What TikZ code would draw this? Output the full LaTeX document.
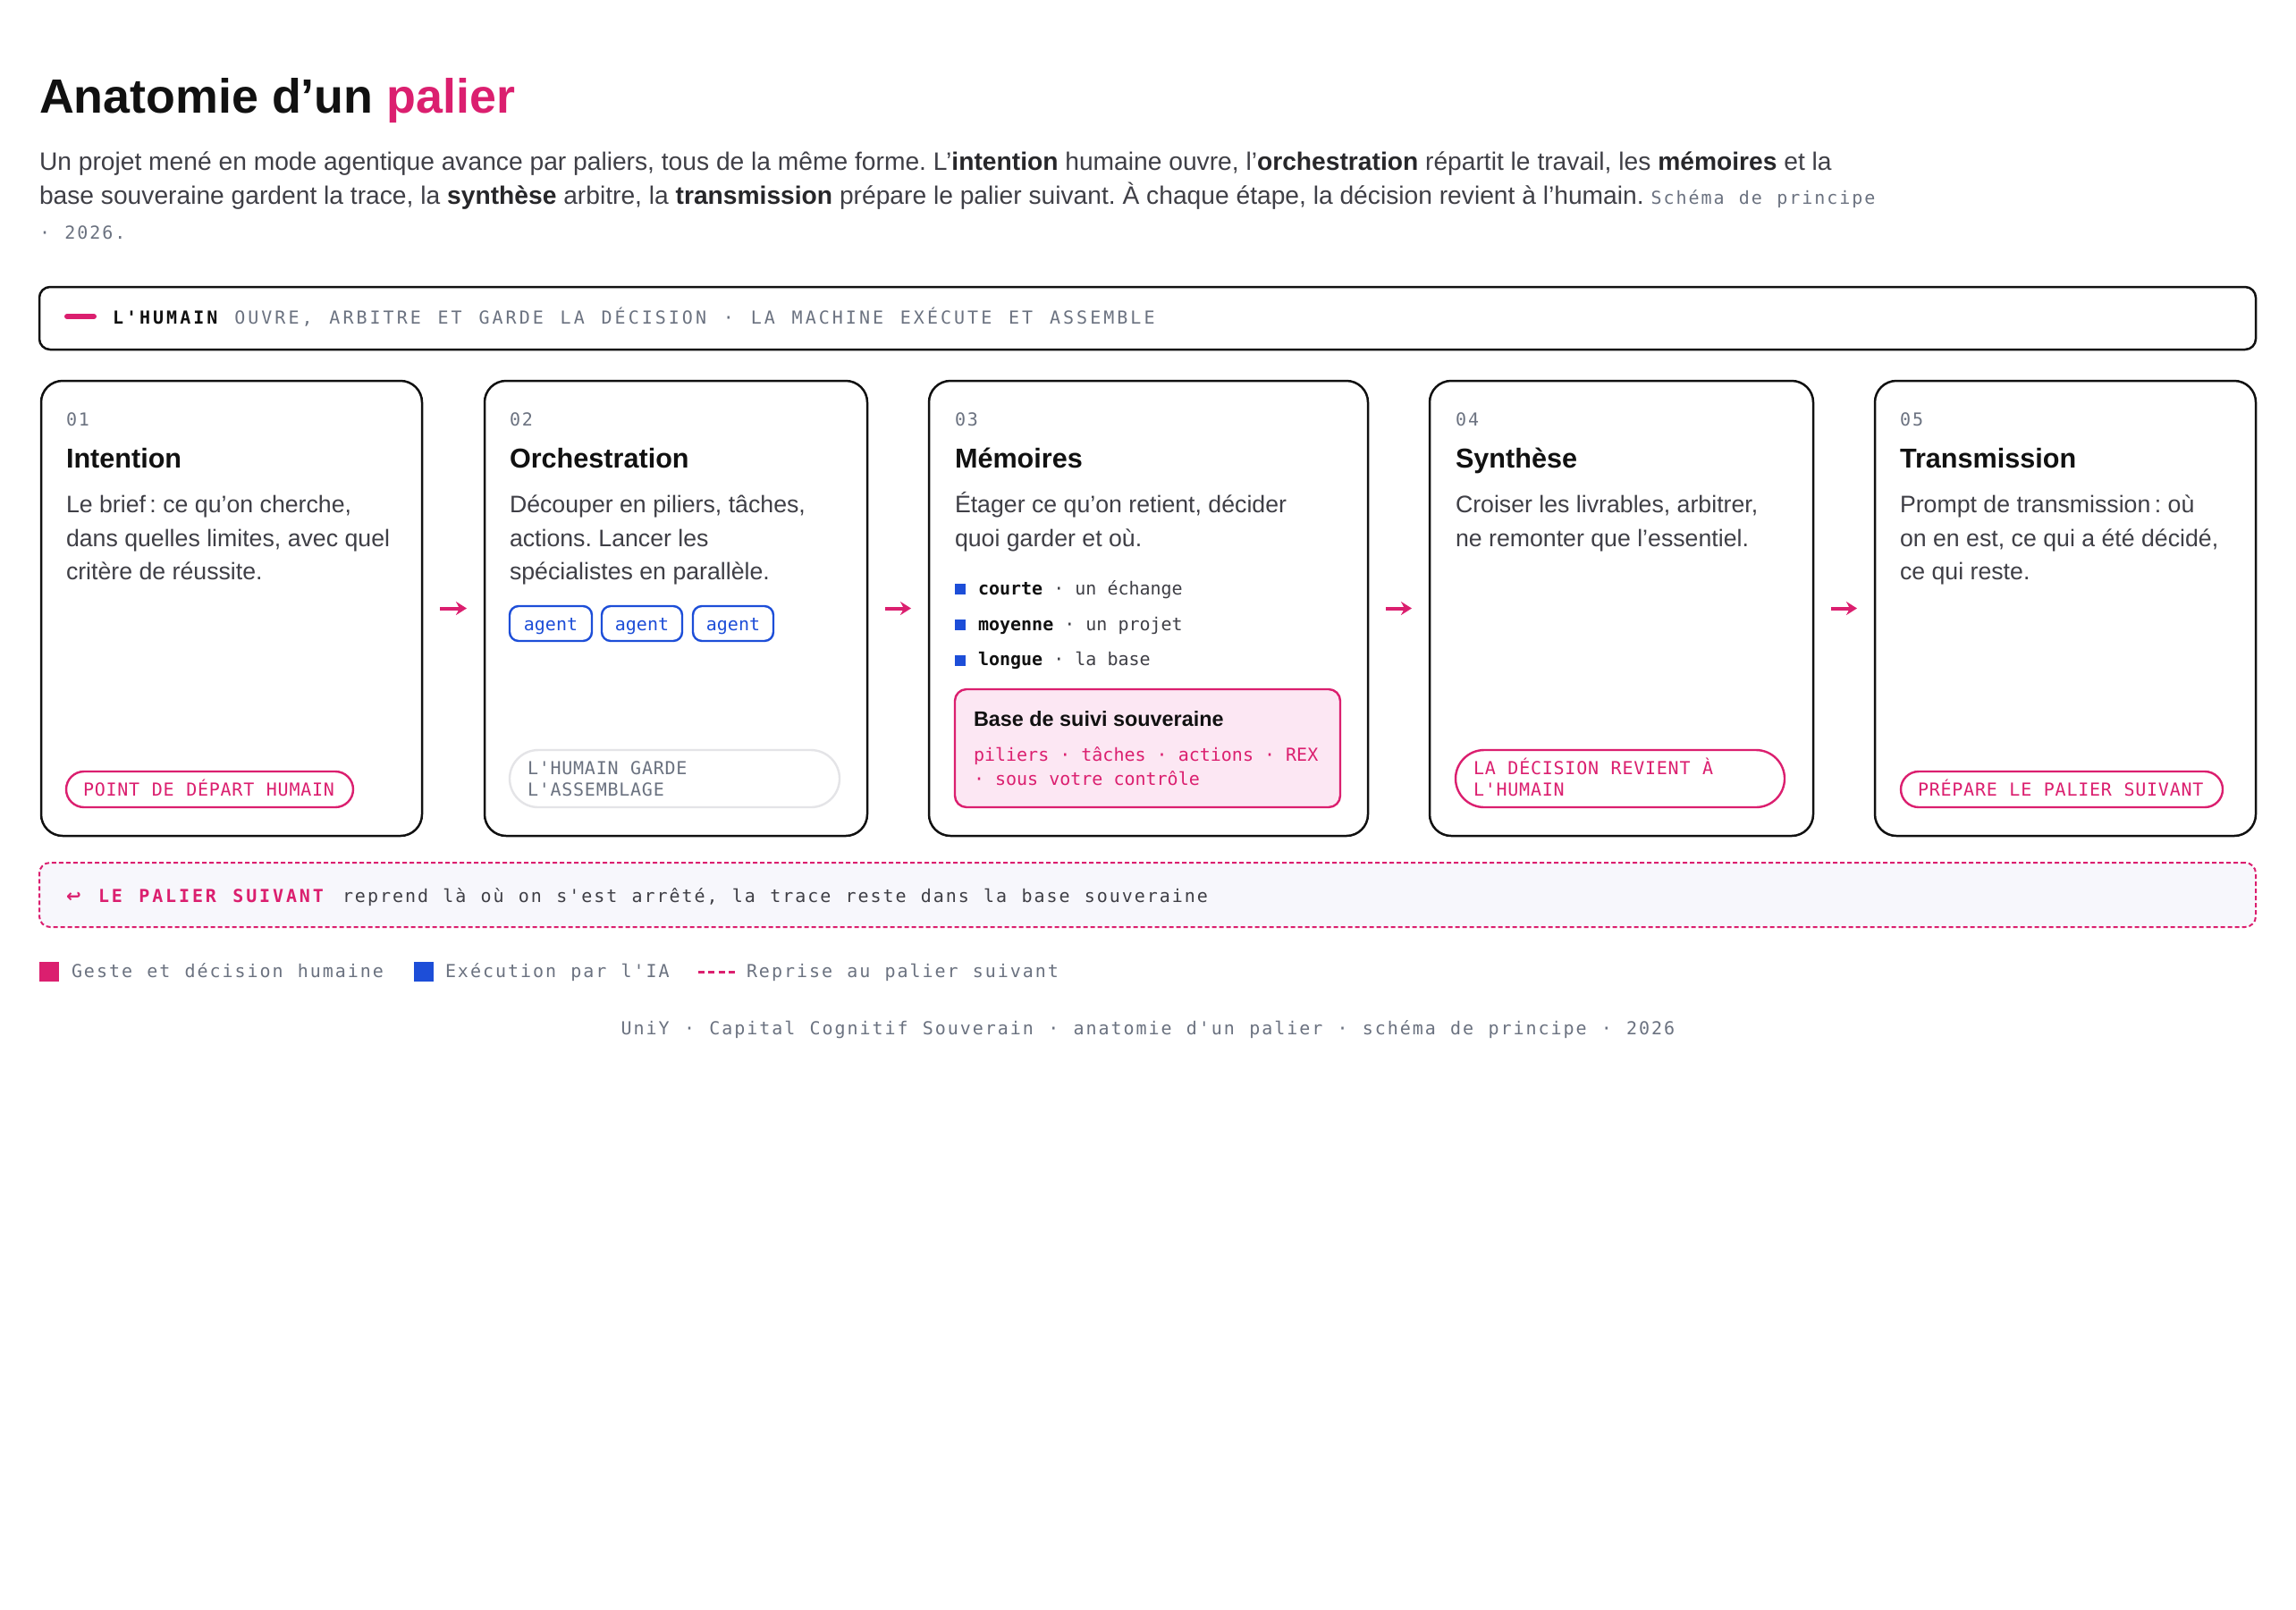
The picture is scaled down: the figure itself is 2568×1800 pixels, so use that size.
\documentclass[tikz,border=0pt]{standalone}
\usepackage{fontspec}
\setmainfont{Liberation Sans}
\newfontfamily\mA[Ligatures=TeXOff]{DejaVu Sans Mono}
\newfontfamily\mB[Ligatures=TeXOff,LetterSpace=3.8,WordSpace=1.063]{DejaVu Sans Mono}
\newfontfamily\mC[Ligatures=TeXOff,LetterSpace=9.8,WordSpace=1.163]{DejaVu Sans Mono}
\newfontfamily\mD[Ligatures=TeXOff,LetterSpace=15.1,WordSpace=1.25]{DejaVu Sans Mono}
\newfontfamily\mE[Ligatures=TeXOff,LetterSpace=14.3,WordSpace=1.24]{DejaVu Sans Mono}
\newfontfamily\djv{DejaVu Sans}
\usetikzlibrary{arrows.meta}
\definecolor{pk}{HTML}{DB1F6F}
\definecolor{bl}{HTML}{1D4ED8}
\definecolor{ink}{HTML}{111111}
\definecolor{body}{HTML}{3F3F46}
\definecolor{strong}{HTML}{27272A}
\definecolor{mut}{HTML}{6B7280}
\definecolor{pkbg}{HTML}{FCE7F3}
\definecolor{bgbox}{HTML}{F7F7FC}
\definecolor{grayln}{HTML}{E4E4E7}
\frenchspacing
\begin{document}
\begin{tikzpicture}[x=0.5pt,y=-0.5pt,
  tx/.style={inner sep=0pt, outer sep=0pt, anchor=base west},
  ttl/.style={tx, font=\fontsize{26.9}{30}\selectfont\bfseries, text=ink},
  para/.style={tx, font=\fontsize{14.1}{17}\selectfont, text=body},
  num/.style={tx, font=\mC\fontsize{10}{12}\selectfont, text=mut},
  ctitle/.style={tx, font=\fontsize{15.3}{18}\selectfont\bfseries, text=ink},
  desc/.style={tx, font=\fontsize{13.35}{16}\selectfont, text=body},
  small/.style={tx, font=\mA\fontsize{10}{12}\selectfont},
  pilltx/.style={tx, font=\mB\fontsize{10}{12}\selectfont},
  note/.style={tx, font=\mC\fontsize{10}{12}\selectfont, text=mut},
  shapebox/.style={inner sep=0pt, outer sep=0pt, anchor=north west},
  card/.style={shapebox, draw=ink, line width=1.25pt, rounded corners=12pt, fill=white, minimum height=254.5pt},
  pillpk/.style={shapebox, draw=pk, line width=1.2pt},
  pillgr/.style={shapebox, draw=grayln, line width=1.2pt},
  agentpill/.style={shapebox, draw=bl, line width=1.2pt, rounded corners=5pt, minimum height=19.5pt,
     font=\mA\fontsize{10}{12}\selectfont, text=bl, text height=7.5pt, text depth=0pt},
  sq/.style={inner sep=0pt, outer sep=0pt, minimum size=6pt, fill=bl},
  flow/.style={draw=pk, line width=2pt, -{Stealth[length=6pt,width=7.5pt]}, shorten >=10pt, shorten <=10pt}
]
\fill[white] (0,0) rectangle (2568,1800);
\useasboundingbox (0,0) rectangle (2568,1800);

% title & intro
\node[ttl] (title) at (44,126) {Anatomie d’un {\color{pk}palier}};
\node[para] (par1) at (44,190) {Un projet mené en mode agentique avance par paliers, tous de la même forme. L’{\bfseries\color{strong}intention} humaine ouvre, l’{\bfseries\color{strong}orchestration} répartit le travail, les {\bfseries\color{strong}mémoires} et la};
\node[para] (par2) at (44,228) {base souveraine gardent la trace, la {\bfseries\color{strong}synthèse} arbitre, la {\bfseries\color{strong}transmission} prépare le palier suivant. À chaque étape, la décision revient à l’humain. {\mC\fontsize{10}{12}\selectfont\color{mut}Schéma de principe}};
\node[note] (par3) at (44,267) {· 2026.};

% banner
\node[shapebox, draw=ink, line width=1.25pt, rounded corners=6pt, minimum width=1239.5pt, minimum height=35pt] (ban) at (44,321) {};
\coordinate (bd1) at (75,354);
\coordinate (bd2) at (105,354);
\draw[pk, line width=3pt, line cap=round] (bd1) -- (bd2);
\node[tx, font=\mD\fontsize{10}{12}\selectfont, text=mut] (bant) at (126,362) {{\bfseries\color{ink}L'HUMAIN} OUVRE, ARBITRE ET GARDE LA DÉCISION · LA MACHINE EXÉCUTE ET ASSEMBLE};

% cards
\node[card, minimum width=213pt] (c1) at (46,426) {};
\node[card, minimum width=214pt] (c2) at (542,426) {};
\node[card, minimum width=245.5pt] (c3) at (1039,426) {};
\node[card, minimum width=214.5pt] (c4) at (1599,426) {};
\node[card, minimum width=213pt] (c5) at (2097,426) {};

\draw[flow] (c1.east) -- (c2.west);
\draw[flow] (c2.east) -- (c3.west);
\draw[flow] (c3.east) -- (c4.west);
\draw[flow] (c4.east) -- (c5.west);

% card 1
\node[num] (n1) at (74,476) {01};
\node[ctitle] (h1) at (74,523) {Intention};
\node[desc] (d1a) at (74,573) {Le brief\,: ce qu’on cherche,};
\node[desc] (d1b) at (74,611) {dans quelles limites, avec quel};
\node[desc] (d1c) at (74,648) {critère de réussite.};
\node[pillpk, rounded corners=10pt, minimum width=160.5pt, minimum height=20pt] (p1) at (74,863) {};
\node[pilltx, text=pk] (p1t) at (93,890) {POINT DE DÉPART HUMAIN};

% card 2
\node[num] (n2) at (570,476) {02};
\node[ctitle] (h2) at (570,523) {Orchestration};
\node[desc] (d2a) at (570,573) {Découper en piliers, tâches,};
\node[desc] (d2b) at (570,611) {actions. Lancer les};
\node[desc] (d2c) at (570,648) {spécialistes en parallèle.};
\node[agentpill, minimum width=46pt] (a1) at (570,678) {agent};
\node[agentpill, minimum width=45pt] (a2) at (673,678) {agent};
\node[agentpill, minimum width=45pt] (a3) at (775,678) {agent};
\node[pillgr, rounded corners=16pt, minimum width=184.5pt, minimum height=32pt] (p2) at (570,839) {};
\node[pilltx, text=mut] (p2a) at (590,866) {L'HUMAIN GARDE};
\node[pilltx, text=mut] (p2b) at (590,890.5) {L'ASSEMBLAGE};

% card 3
\node[num] (n3) at (1068,476) {03};
\node[ctitle] (h3) at (1068,523) {Mémoires};
\node[desc] (d3a) at (1068,573) {Étager ce qu’on retient, décider};
\node[desc] (d3b) at (1068,611) {quoi garder et où.};
\node[sq] (s1) at (1074,659) {};
\node[sq] (s2) at (1074,698.5) {};
\node[sq] (s3) at (1074,738.5) {};
\node[small, text=body] (l1) at (1094,665) {{\bfseries\color{ink}courte} · un échange};
\node[small, text=body] (l2) at (1094,705) {{\bfseries\color{ink}moyenne} · un projet};
\node[small, text=body] (l3) at (1094,744.5) {{\bfseries\color{ink}longue} · la base};
\node[shapebox, draw=pk, fill=pkbg, line width=1.2pt, rounded corners=6.5pt, minimum width=215.5pt, minimum height=66pt] (pb) at (1068,771) {};
\node[tx, font=\fontsize{11.7}{14}\selectfont\bfseries, text=ink] (pbt) at (1089,812.5) {Base de suivi souveraine};
\node[small, text=pk] (pb1) at (1089,851) {piliers · tâches · actions · REX};
\node[small, text=pk] (pb2) at (1089,878.5) {· sous votre contrôle};

% card 4
\node[num] (n4) at (1628,476) {04};
\node[ctitle] (h4) at (1628,523) {Synthèse};
\node[desc] (d4a) at (1628,573) {Croiser les livrables, arbitrer,};
\node[desc] (d4b) at (1628,611) {ne remonter que l’essentiel.};
\node[pillpk, rounded corners=16pt, minimum width=184pt, minimum height=32pt] (p4) at (1628,839) {};
\node[pilltx, text=pk] (p4a) at (1648,866) {LA DÉCISION REVIENT À};
\node[pilltx, text=pk] (p4b) at (1648,890.5) {L'HUMAIN};

% card 5
\node[num] (n5) at (2125,476) {05};
\node[ctitle] (h5) at (2125,523) {Transmission};
\node[desc] (d5a) at (2125,573) {Prompt de transmission\,: où};
\node[desc] (d5b) at (2125,611) {on en est, ce qui a été décidé,};
\node[desc] (d5c) at (2125,648) {ce qui reste.};
\node[pillpk, rounded corners=10pt, minimum width=180pt, minimum height=20pt] (p5) at (2126,863) {};
\node[pilltx, text=pk] (p5t) at (2145,890) {PRÉPARE LE PALIER SUIVANT};

% next step box
\node[shapebox, draw=pk, fill=bgbox, line width=1pt, dash pattern=on 2.5pt off 1.5pt, rounded corners=6pt, minimum width=1239.5pt, minimum height=36pt] (bb) at (44,965) {};
\node[tx, font=\djv\fontsize{10}{12}\selectfont\bfseries, text=pk] (bbi) at (74,1009) {↩};
\node[tx, font=\mE\fontsize{10}{12}\selectfont\bfseries, text=pk] (bbl) at (110,1009) {LE PALIER SUIVANT};
\node[tx, font=\mC\fontsize{10}{12}\selectfont, text=body] (bbt) at (383,1009) {reprend là où on s'est arrêté, la trace reste dans la base souveraine};

% legend
\node[inner sep=0pt, minimum size=11pt, fill=pk] (lg1) at (55,1087) {};
\node[note] (lg1t) at (80,1093) {Geste et décision humaine};
\node[inner sep=0pt, minimum size=11pt, fill=bl] (lg2) at (474,1087) {};
\node[note] (lg2t) at (498,1093) {Exécution par l'IA};
\coordinate (lg3a) at (781,1087);
\coordinate (lg3b) at (822,1087);
\draw[pk, line width=1.5pt, dash pattern=on 3.5pt off 2.2pt] (lg3a) -- (lg3b);
\node[note] (lg3t) at (835,1093) {Reprise au palier suivant};

% footer
\node[note, anchor=base] (foot) at (1284,1157) {UniY · Capital Cognitif Souverain · anatomie d'un palier · schéma de principe · 2026};
\end{tikzpicture}
\end{document}
